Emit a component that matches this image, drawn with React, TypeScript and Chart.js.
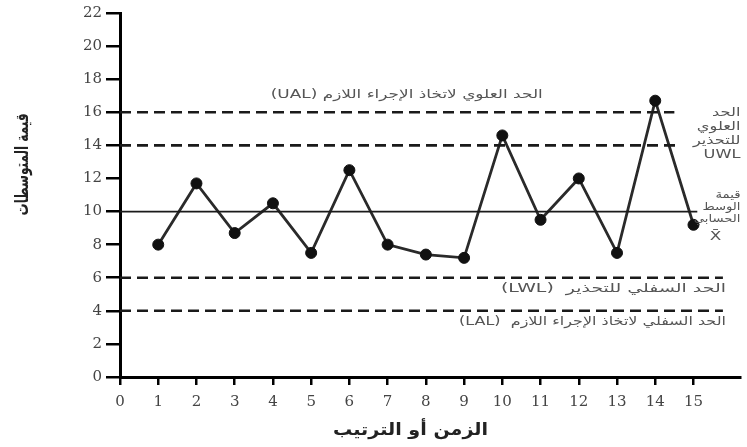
import { useEffect, useRef } from "react";
import { Chart, registerables } from "chart.js";

Chart.register(...registerables);

// ---- data ----
const samples = [1, 2, 3, 4, 5, 6, 7, 8, 9, 10, 11, 12, 13, 14, 15];
const means = [8.0, 11.7, 8.7, 10.5, 7.5, 12.5, 8.0, 7.4, 7.2, 14.6, 9.5, 12.0, 7.5, 16.7, 9.2];

const limitValues = [16, 14, 10, 6, 4]; // UAL, UWL, mean, LWL, LAL
const limitEnds = [14.5, 14.6, 15.1, 15.77, 15.77];
const limitDashed = [true, true, false, true, true];

const xTickValues = [0, 1, 2, 3, 4, 5, 6, 7, 8, 9, 10, 11, 12, 13, 14, 15];
const yTickValues = [0, 2, 4, 6, 8, 10, 12, 14, 16, 18, 20, 22];

const xTitle = "الزمن أو الترتيب";
const yTitle = "قيمة المتوسطات";
const ualText = "الحد العلوي لاتخاذ الإجراء اللازم (UAL)";
const lwlText = "الحد السفلي للتحذير  (LWL)";
const lalText = "الحد السفلي لاتخاذ الإجراء اللازم  (LAL)";
const uwlLines = ["الحد", "العلوي", "للتحذير", "UWL"];
const meanLines = ["قيمة", "الوسط", "الحسابي"];
const meanSymbol = "X\u0304";

function fitText(ctx: CanvasRenderingContext2D, text: string, x: number, y: number, align: CanvasTextAlign, width: number) {
  const w = ctx.measureText(text).width;
  ctx.save();
  ctx.translate(x, y);
  ctx.scale(width / w, 1);
  ctx.textAlign = align;
  ctx.fillText(text, 0, 0);
  ctx.restore();
}

function stretchText(ctx: CanvasRenderingContext2D, text: string, x: number, y: number, align: CanvasTextAlign, sx: number) {
  ctx.save();
  ctx.translate(x, y);
  ctx.scale(sx, 1);
  ctx.textAlign = align;
  ctx.fillText(text, 0, 0);
  ctx.restore();
}

const labelsPlugin = {
  id: "arabicLabels",
  afterDatasetsDraw(chart: any) {
    const ctx: CanvasRenderingContext2D = chart.ctx;
    const { chartArea } = chart;
    const x = chart.scales.x;
    const y = chart.scales.y;
    ctx.save();
    ctx.direction = "rtl";
    ctx.textBaseline = "middle";
    ctx.fillStyle = "#555";
    ctx.font = '12px "DejaVu Sans"';
    fitText(ctx, ualText, x.getPixelForValue(7.5), y.getPixelForValue(17.05), "center", 272);
    fitText(ctx, lwlText, x.getPixelForValue(15.85), y.getPixelForValue(5.3), "right", 225);
    fitText(ctx, lalText, x.getPixelForValue(15.85), y.getPixelForValue(3.35), "right", 267);

    uwlLines.forEach((t, i) => {
      stretchText(ctx, t, chartArea.right, y.getPixelForValue(15.95) + i * 14, "right", 1.35);
    });
    ctx.font = '11px "DejaVu Sans"';
    meanLines.forEach((t, i) => {
      stretchText(ctx, t, chartArea.right, y.getPixelForValue(10.97) + i * 12, "right", 1.2);
    });
    ctx.font = '13px "DejaVu Sans"';
    stretchText(ctx, meanSymbol, chartArea.right - 25, y.getPixelForValue(10.97) + 41, "center", 1.3);

    // axis titles
    ctx.fillStyle = "#222";
    ctx.font = 'bold 17px "DejaVu Sans"';
    fitText(ctx, xTitle, x.getPixelForValue(7.6), chart.height - 16, "center", 155);
    ctx.save();
    ctx.translate(23, y.getPixelForValue(12.85));
    ctx.rotate(-Math.PI / 2);
    ctx.font = 'bold 18px "DejaVu Sans"';
    fitText(ctx, yTitle, 0, 0, "center", 102);
    ctx.restore();
    ctx.restore();
  },
};

export default function App() {
  const ref = useRef<HTMLCanvasElement | null>(null);

  useEffect(() => {
    document.body.style.margin = "0";
    const canvas = ref.current;
    if (!canvas) return;

    const limitSets = limitValues.map((v, i) => ({
      type: "line" as const,
      data: [
        { x: 0, y: v },
        { x: limitEnds[i], y: v },
      ],
      borderColor: "#1a1a1a",
      borderWidth: limitDashed[i] ? 2.6 : 1.8,
      borderDash: limitDashed[i] ? [11, 6] : [],
      pointRadius: 0,
      fill: false,
    }));

    const chart = new Chart(canvas, {
      type: "line",
      data: {
        datasets: [
          ...limitSets,
          {
            data: samples.map((s, i) => ({ x: s, y: means[i] })),
            borderColor: "#2a2a2a",
            borderWidth: 2.8,
            pointRadius: 5.5,
            pointBackgroundColor: "#111",
            pointBorderColor: "#111",
            pointBorderWidth: 1,
            fill: false,
            tension: 0,
          },
        ],
      },
      options: {
        responsive: false,
        animation: false,
        layout: { padding: { top: 12, right: 2, left: 0, bottom: 0 } },
        plugins: {
          legend: { display: false },
          tooltip: { enabled: false },
        },
        scales: {
          x: {
            type: "linear",
            min: 0,
            max: 16.23,
            afterBuildTicks: (scale: any) => {
              scale.ticks = xTickValues.map((v) => ({ value: v }));
            },
            afterFit: (scale: any) => {
              scale.height = 70;
            },
            border: { display: true, color: "#000", width: 3 },
            grid: {
              drawOnChartArea: false,
              drawTicks: true,
              tickLength: 8,
              color: "#000",
              lineWidth: 2.5,
            },
            ticks: {
              padding: 8,
              color: "#444",
              font: { family: '"DejaVu Serif"', size: 15 },
              maxRotation: 0,
              autoSkip: false,
            },
          },
          y: {
            type: "linear",
            min: 0,
            max: 22,
            afterBuildTicks: (scale: any) => {
              scale.ticks = yTickValues.map((v) => ({ value: v }));
            },
            afterFit: (scale: any) => {
              scale.width = 120;
            },
            border: { display: true, color: "#000", width: 3 },
            grid: {
              drawOnChartArea: false,
              drawTicks: true,
              tickLength: 14,
              color: "#000",
              lineWidth: 2.5,
            },
            ticks: {
              padding: 4,
              color: "#444",
              font: { family: '"DejaVu Serif"', size: 15 },
              autoSkip: false,
            },
          },
        },
      },
      plugins: [labelsPlugin],
    });

    return () => chart.destroy();
  }, []);

  return (
    <div style={{ width: 747, height: 447 }}>
      <canvas ref={ref} width={747} height={447} />
    </div>
  );
}
